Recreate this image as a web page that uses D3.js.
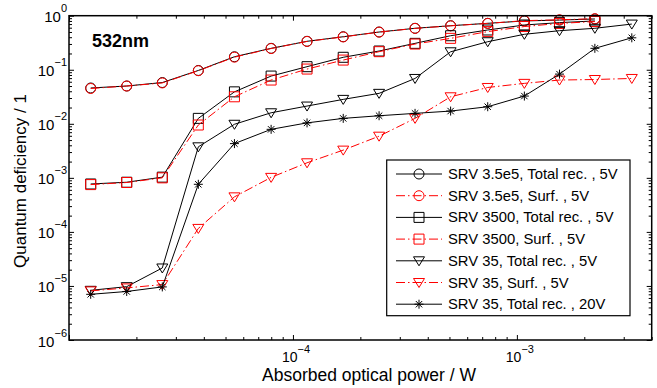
<!DOCTYPE html>
<html>
<head>
<meta charset="utf-8">
<script src="https://cdn.jsdelivr.net/npm/d3@7"></script>
<style>
  body { margin: 0; background: #fff; }
  svg { display: block; font-family: "Liberation Sans", Arial, sans-serif; }
</style>
</head>
<body>
<svg id="chart" width="657" height="388"></svg>
<script>
// absorbed optical power (W), shared x positions
const power = [1.25e-5, 1.81e-5, 2.61e-5, 3.78e-5, 5.48e-5, 7.99e-5, 1.156e-4, 1.677e-4,
  2.425e-4, 3.51e-4, 5.06e-4, 7.41e-4, 1.08e-3, 1.55e-3, 2.23e-3, 3.26e-3];

// quantum deficiency per series
const srv35e5Total = [0.046, 0.050, 0.058, 0.097, 0.174, 0.249, 0.336, 0.408, 0.499, 0.585, 0.653, 0.723, 0.80, 0.83, 0.87];
const srv35e5Surf = [0.045, 0.050, 0.057, 0.096, 0.171, 0.247, 0.334, 0.405, 0.497, 0.582, 0.650, 0.72, 0.81, 0.84, 0.88];
const srv3500Total = [7.7e-4, 8.3e-4, 1.03e-3, 0.0126, 0.039, 0.0764, 0.114, 0.17, 0.222, 0.308, 0.426, 0.544, 0.673, 0.745, 0.80];
const srv3500Surf = [7.5e-4, 8.2e-4, 1.0e-3, 0.0095, 0.0316, 0.0645, 0.103, 0.151, 0.216, 0.299, 0.381, 0.508, 0.63, 0.72, 0.78];
const srv35Total = [8.3e-6, 9.7e-6, 2.15e-5, 3.75e-3, 9.8e-3, 0.016, 0.0213, 0.0283, 0.0366, 0.069, 0.215, 0.33, 0.453, 0.528, 0.585, 0.70];
const srv35Surf = [8.1e-6, 9.2e-6, 1.06e-5, 1.16e-4, 4.45e-4, 1.02e-3, 1.9e-3, 3.26e-3, 5.9e-3, 0.0126, 0.0316, 0.047, 0.056, 0.0645, 0.066, 0.069];
const srv35Total20 = [7.0e-6, 7.9e-6, 9.6e-6, 7.6e-4, 4.3e-3, 7.9e-3, 0.0104, 0.0126, 0.0141, 0.0156, 0.0172, 0.0207, 0.0326, 0.083, 0.249, 0.39];

const seriesNames = ['SRV 3.5e5, Total rec. , 5V', 'SRV 3.5e5, Surf. , 5V', 'SRV 3500, Total rec. , 5V',
  'SRV 3500, Surf. , 5V', 'SRV 35, Total rec. , 5V', 'SRV 35, Surf. , 5V', 'SRV 35, Total rec. , 20V'];

const xTickLabels = [-4, -3];
const yTickLabels = [0, -1, -2, -3, -4, -5, -6];

const series = [
  { name: seriesNames[0], values: srv35e5Total, color: '#000', dash: null, marker: 'circle' },
  { name: seriesNames[1], values: srv35e5Surf, color: '#ff0000', dash: '9,3,1.5,3', marker: 'circle' },
  { name: seriesNames[2], values: srv3500Total, color: '#000', dash: null, marker: 'square' },
  { name: seriesNames[3], values: srv3500Surf, color: '#ff0000', dash: '9,3,1.5,3', marker: 'square' },
  { name: seriesNames[4], values: srv35Total, color: '#000', dash: null, marker: 'triangle' },
  { name: seriesNames[5], values: srv35Surf, color: '#ff0000', dash: '9,3,1.5,3', marker: 'triangle' },
  { name: seriesNames[6], values: srv35Total20, color: '#000', dash: null, marker: 'star' }
];

const plotLeft = 69, plotRight = 651.7, plotTop = 15.7, plotBottom = 340;

const svg = d3.select('#chart');

const x = d3.scaleLog().domain([1e-5, 4e-3]).range([plotLeft, plotRight]);
const y = d3.scaleLog().domain([1e-6, 1]).range([plotBottom, plotTop]);

// major / minor tick values
const xMajor = [1e-5, 1e-4, 1e-3];
const xMinor = [];
[1e-5, 1e-4, 1e-3].forEach(d => { for (let k = 2; k <= 9; k++) if (d * k <= 4e-3) xMinor.push(d * k); });
const yMajor = yTickLabels.map(e => Math.pow(10, e));
const yMinor = [];
[1e-6, 1e-5, 1e-4, 1e-3, 1e-2, 1e-1].forEach(d => { for (let k = 2; k <= 9; k++) yMinor.push(d * k); });

function drawTicks(axisFn, scale, values, size, transform) {
  const g = svg.append('g')
      .attr('transform', transform)
      .call(axisFn(scale).tickValues(values).tickSizeInner(size).tickSizeOuter(0).tickFormat(''));
  g.select('.domain').remove();
  g.selectAll('line').attr('stroke', '#000').attr('stroke-width', 1);
}

// ticks point inside on all four sides
drawTicks(d3.axisBottom, x, xMajor, -5, `translate(0,${plotBottom})`);
drawTicks(d3.axisBottom, x, xMinor, -3, `translate(0,${plotBottom})`);
drawTicks(d3.axisTop, x, xMajor, -5, `translate(0,${plotTop})`);
drawTicks(d3.axisTop, x, xMinor, -3, `translate(0,${plotTop})`);
drawTicks(d3.axisLeft, y, yMajor, -5, `translate(${plotLeft},0)`);
drawTicks(d3.axisLeft, y, yMinor, -3, `translate(${plotLeft},0)`);
drawTicks(d3.axisRight, y, yMajor, -5, `translate(${plotRight},0)`);
drawTicks(d3.axisRight, y, yMinor, -3, `translate(${plotRight},0)`);

// tick labels 10^n
xTickLabels.forEach(e => {
  const t = svg.append('text')
      .attr('x', x(Math.pow(10, e)) + 3)
      .attr('y', 362)
      .attr('text-anchor', 'middle')
      .attr('font-size', 14);
  t.append('tspan').text('10');
  t.append('tspan').attr('dy', -9.5).attr('font-size', 11).text('\u2212' + Math.abs(e));
});

yTickLabels.forEach(e => {
  const t = svg.append('text')
      .attr('x', 67)
      .attr('y', y(Math.pow(10, e)) + 6.5)
      .attr('text-anchor', 'end')
      .attr('font-size', 15);
  t.append('tspan').text('10');
  t.append('tspan').attr('dy', -10).attr('font-size', 11).text(e === 0 ? '0' : '\u2212' + Math.abs(e));
});

// markers
function markerPath(type) {
  if (type === 'circle') return d3.symbol().type(d3.symbolCircle).size(Math.PI * 25)();
  if (type === 'square') return 'M-5,-5L5,-5L5,5L-5,5Z';
  if (type === 'triangle') return 'M-5.5,-4L5.5,-4L0,5Z';
  return 'M-4.5,0L4.5,0M0,-4.5L0,4.5M-3.2,-3.2L3.2,3.2M-3.2,3.2L3.2,-3.2';
}

const line = d3.line().x(d => x(d[0])).y(d => y(d[1]));

const plot = svg.append('g');
series.forEach(s => {
  const pts = s.values.map((v, i) => [power[i], v]);
  plot.append('path')
      .attr('d', line(pts))
      .attr('fill', 'none')
      .attr('stroke', s.color)
      .attr('stroke-width', 1)
      .attr('stroke-dasharray', s.dash);
  plot.selectAll(null)
      .data(pts)
      .enter()
      .append('path')
      .attr('transform', d => `translate(${x(d[0])},${y(d[1])})`)
      .attr('d', markerPath(s.marker))
      .attr('fill', 'none')
      .attr('stroke', s.color)
      .attr('stroke-width', 1);
});

// axes box
svg.append('rect')
    .attr('x', plotLeft).attr('y', plotTop)
    .attr('width', plotRight - plotLeft).attr('height', plotBottom - plotTop)
    .attr('fill', 'none').attr('stroke', '#000').attr('stroke-width', 1.5);

// annotation
svg.append('text')
    .attr('x', 92).attr('y', 47)
    .attr('font-size', 18).attr('font-weight', 'bold')
    .text('532nm');

// axis titles
svg.append('text')
    .attr('x', 369).attr('y', 381)
    .attr('text-anchor', 'middle')
    .attr('font-size', 17.5)
    .text('Absorbed optical power / W');

svg.append('text')
    .attr('transform', 'translate(26,181) rotate(-90)')
    .attr('text-anchor', 'middle')
    .attr('font-size', 17)
    .text('Quantum deficiency / 1');

// legend
const lg = svg.append('g');
lg.append('rect')
    .attr('x', 386.7).attr('y', 160)
    .attr('width', 243.3).attr('height', 155.7)
    .attr('fill', '#fff').attr('stroke', '#000').attr('stroke-width', 1.2);

series.forEach((s, i) => {
  const yy = 174 + i * 21.7;
  lg.append('line')
      .attr('x1', 396).attr('x2', 442)
      .attr('y1', yy).attr('y2', yy)
      .attr('stroke', s.color).attr('stroke-width', 1)
      .attr('stroke-dasharray', s.dash);
  lg.append('path')
      .attr('transform', `translate(419,${yy})`)
      .attr('d', markerPath(s.marker))
      .attr('fill', 'none').attr('stroke', s.color).attr('stroke-width', 1);
  lg.append('text')
      .attr('x', 448).attr('y', yy + 5)
      .attr('font-size', 14.8)
      .text(s.name);
});
</script>
</body>
</html>
